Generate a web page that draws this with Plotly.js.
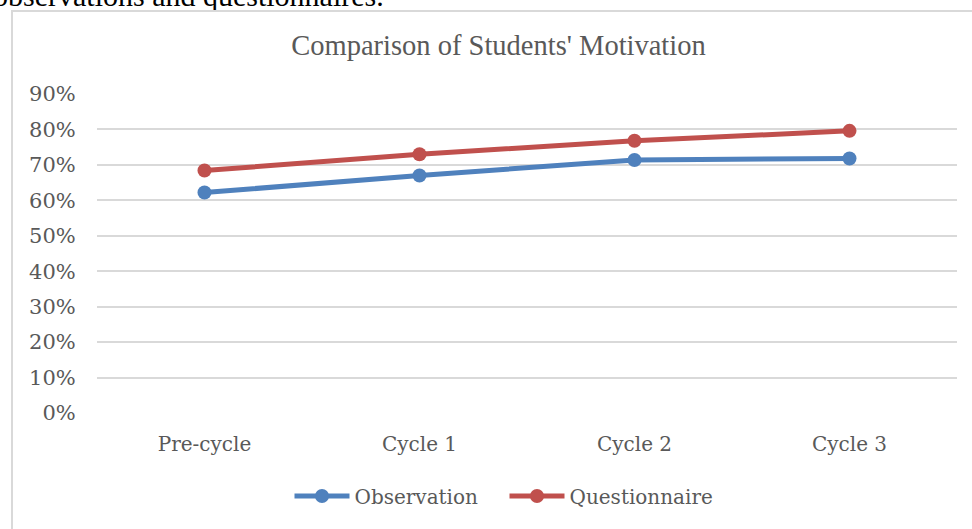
<!DOCTYPE html>
<html>
<head>
<meta charset="utf-8">
<script src="https://cdn.plot.ly/plotly-3.0.1.min.js"></script>
<style>
  html, body { margin: 0; padding: 0; background: #ffffff; overflow: hidden; }
  #chart { position: absolute; left: 0; top: 0; width: 972px; height: 529px; }
  #frame { position: absolute; left: 11px; top: 10px; width: 980px; height: 540px;
           border-left: 2px solid #d9d9d9; border-top: 2px solid #d9d9d9;
           pointer-events: none; z-index: 5; }
</style>
</head>
<body>
<div id="chart"></div>
<div id="frame"></div>
<script>
// ---- data ----
const categories = ["Pre-cycle", "Cycle 1", "Cycle 2", "Cycle 3"];
const observation = [0.622, 0.670, 0.714, 0.718];
const questionnaire = [0.684, 0.730, 0.768, 0.796];
const seriesNames = ["Observation", "Questionnaire"];
const yTickVals = [0, 0.1, 0.2, 0.3, 0.4, 0.5, 0.6, 0.7, 0.8, 0.9];
const yTickText = ["0%", "10%", "20%", "30%", "40%", "50%", "60%", "70%", "80%", "90%"];
const chartTitle = "Comparison of Students' Motivation";
const aboveText = "observations and questionnaires.";

const xTickFont = { family: "DejaVu Serif", size: 20, color: "#595959" };
const yTickFont = { family: "DejaVu Serif", size: 21, color: "#595959" };

const traces = [
  {
    x: categories, y: observation, name: seriesNames[0], type: "scatter", mode: "lines+markers",
    line: { color: "#4f81bd", width: 5 },
    marker: { color: "#4f81bd", size: 14 }
  },
  {
    x: categories, y: questionnaire, name: seriesNames[1], type: "scatter", mode: "lines+markers",
    line: { color: "#c0504d", width: 5 },
    marker: { color: "#c0504d", size: 14 }
  }
];

const layout = {
  width: 972, height: 529,
  margin: { l: 97, r: 15, t: 94, b: 116, autoexpand: false },
  paper_bgcolor: "#ffffff", plot_bgcolor: "#ffffff",
  title: {
    text: chartTitle,
    font: { family: "Liberation Serif", size: 28.5, color: "#595959" },
    x: 498.5 / 972, xref: "container", xanchor: "center",
    y: 1 - 45 / 529, yref: "container", yanchor: "middle"
  },
  xaxis: {
    type: "category",
    range: [-0.5, 3.5],
    showgrid: false, zeroline: false, showline: false,
    ticks: "outside", ticklen: 13, tickcolor: "rgba(0,0,0,0)",
    tickangle: 0, automargin: false,
    tickfont: xTickFont, fixedrange: true
  },
  yaxis: {
    range: [0, 0.9],
    tickvals: yTickVals, ticktext: yTickText,
    showgrid: true, gridcolor: "#d9d9d9", gridwidth: 2,
    zeroline: false, showline: false,
    ticks: "outside", ticklen: 16, tickcolor: "rgba(0,0,0,0)",
    automargin: false,
    tickfont: yTickFont, fixedrange: true
  },
  showlegend: true,
  legend: {
    orientation: "h", x: (504.5 - 97) / 860, xanchor: "center",
    y: (413 - 496) / 319, yanchor: "middle",
    font: { family: "DejaVu Serif", size: 20, color: "#595959" },
    itemwidth: 55, traceorder: "normal",
    entrywidth: 145, entrywidthmode: "pixels",
    bgcolor: "rgba(0,0,0,0)"
  },
  annotations: [
    {
      text: aboveText, showarrow: false,
      xref: "paper", yref: "paper",
      x: (386 - 97) / 860, xanchor: "right",
      y: (413 - 14) / 319, yanchor: "bottom",
      font: { family: "Liberation Serif", size: 30, color: "#000000" }
    }
  ]
};

Plotly.newPlot("chart", traces, layout, { staticPlot: true, displayModeBar: false });
</script>
</body>
</html>
